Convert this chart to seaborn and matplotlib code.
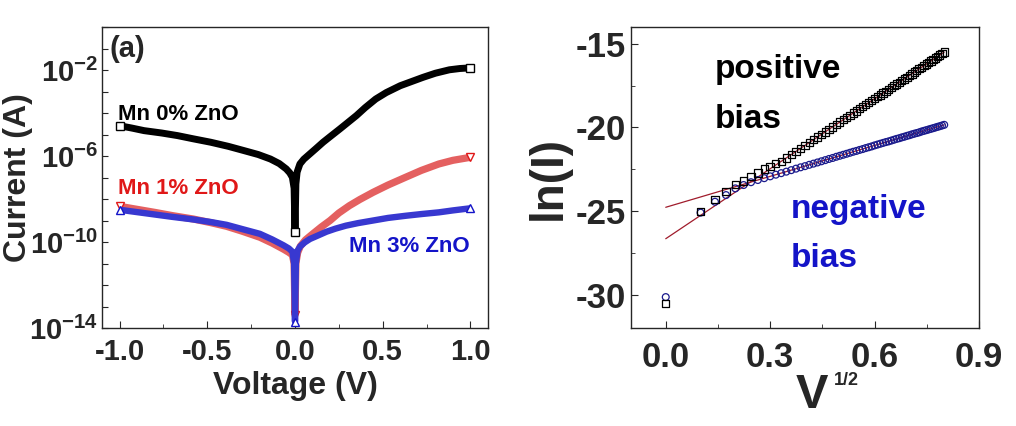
import numpy as np
import pandas as pd
import seaborn as sns
import matplotlib.pyplot as plt
from matplotlib.ticker import FixedLocator, FuncFormatter, MultipleLocator

# ---- panel (a): I-V curves, log10 of current ----
v_mn0 = [-1.0, -0.93, -0.86, -0.76, -0.67, -0.58, -0.48, -0.38, -0.29, -0.21, -0.14, -0.09,
         -0.05, -0.03, -0.015, -0.005, 0.0,
         0.005, 0.012, 0.028, 0.05, 0.085, 0.12, 0.16, 0.2, 0.256, 0.3, 0.35, 0.4, 0.46,
         0.52, 0.6, 0.66, 0.73, 0.8, 0.88, 0.94, 1.0]
logi_mn0 = [-4.59, -4.70, -4.82, -4.93, -5.05, -5.20, -5.36, -5.55, -5.75, -5.93, -6.14, -6.35,
            -6.6, -6.78, -6.99, -7.5, -9.55,
            -7.3, -6.75, -6.37, -6.15, -5.9, -5.65, -5.36, -5.1, -4.74, -4.45, -4.12, -3.75, -3.35,
            -3.05, -2.73, -2.55, -2.34, -2.15, -1.99, -1.93, -1.9]

v_mn1 = [-1.0, -0.9, -0.8, -0.7, -0.58, -0.48, -0.39, -0.3, -0.2, -0.13, -0.066, -0.035,
         -0.015, -0.005, 0.0,
         0.005, 0.015, 0.03, 0.06, 0.1, 0.15, 0.2, 0.25, 0.31, 0.37, 0.445, 0.53, 0.63,
         0.72, 0.82, 0.9, 1.0]
logi_mn1 = [-8.34, -8.48, -8.62, -8.77, -8.93, -9.1, -9.27, -9.5, -9.78, -10.05, -10.33, -10.48,
            -10.6, -11.0, -13.4,
            -11.0, -10.5, -10.2, -9.9, -9.63, -9.3, -9.0, -8.65, -8.31, -8.02, -7.69, -7.35, -6.99,
            -6.67, -6.37, -6.2, -6.06]

v_mn3 = [-1.0, -0.9, -0.8, -0.7, -0.58, -0.48, -0.39, -0.3, -0.2, -0.13, -0.066, -0.035,
         -0.015, -0.005, 0.0,
         0.005, 0.015, 0.03, 0.055, 0.085, 0.13, 0.18, 0.23, 0.29, 0.36, 0.445, 0.53, 0.63,
         0.72, 0.82, 0.9, 1.0]
logi_mn3 = [-8.5, -8.61, -8.72, -8.83, -8.95, -9.07, -9.2, -9.4, -9.62, -9.88, -10.15, -10.3,
            -10.45, -11.0, -13.7,
            -11.0, -10.4, -10.2, -10.02, -9.86, -9.7, -9.52, -9.38, -9.24, -9.12, -9.0, -8.88, -8.78,
            -8.7, -8.62, -8.53, -8.43]

# ---- panel (b): ln(I) vs V^1/2 ----
bias_v = [0.00, 0.01, 0.02, 0.03, 0.04, 0.05, 0.06, 0.07, 0.08, 0.09,
          0.10, 0.11, 0.12, 0.13, 0.14, 0.15, 0.16, 0.17, 0.18, 0.19,
          0.20, 0.21, 0.22, 0.23, 0.24, 0.25, 0.26, 0.27, 0.28, 0.29,
          0.30, 0.31, 0.32, 0.33, 0.34, 0.35, 0.36, 0.37, 0.38, 0.39,
          0.40, 0.41, 0.42, 0.43, 0.44, 0.45, 0.46, 0.47, 0.48, 0.49,
          0.50, 0.51, 0.52, 0.53, 0.54, 0.55, 0.56, 0.57, 0.58, 0.59,
          0.60, 0.61, 0.62, 0.63, 0.64]
ln_pos = [-30.55, -25.04, -24.30, -23.85, -23.43, -23.20, -22.92, -22.72, -22.50, -22.35,
          -22.18, -22.03, -21.83, -21.63, -21.44, -21.26, -21.08, -20.91, -20.74, -20.58,
          -20.42, -20.27, -20.12, -19.97, -19.83, -19.69, -19.55, -19.41, -19.28, -19.15,
          -19.02, -18.89, -18.77, -18.65, -18.53, -18.41, -18.29, -18.17, -18.06, -17.95,
          -17.84, -17.73, -17.62, -17.51, -17.41, -17.30, -17.20, -17.10, -17.00, -16.90,
          -16.80, -16.70, -16.60, -16.50, -16.41, -16.31, -16.22, -16.13, -16.04, -15.95,
          -15.85, -15.77, -15.68, -15.59, -15.50]
ln_neg = [-30.15, -25.10, -24.45, -24.05, -23.65, -23.45, -23.28, -23.15, -23.04, -22.93,
          -22.83, -22.74, -22.65, -22.56, -22.47, -22.39, -22.32, -22.24, -22.17, -22.10,
          -22.03, -21.96, -21.89, -21.83, -21.76, -21.70, -21.64, -21.58, -21.52, -21.46,
          -21.41, -21.35, -21.30, -21.24, -21.19, -21.14, -21.08, -21.03, -20.98, -20.93,
          -20.88, -20.84, -20.79, -20.74, -20.69, -20.65, -20.60, -20.56, -20.51, -20.47,
          -20.42, -20.38, -20.34, -20.30, -20.25, -20.21, -20.17, -20.13, -20.09, -20.05,
          -20.01, -19.97, -19.93, -19.89, -19.85]
fit_x = [0.0, 0.8]
fit_pos = [-26.66, -15.50]
fit_neg = [-24.78, -19.85]

sns.set_style("ticks")
plt.rcParams["font.family"] = ["Liberation Sans", "DejaVu Sans"]
plt.rcParams["font.weight"] = "bold"
plt.rcParams["axes.unicode_minus"] = False
plt.rcParams["mathtext.fontset"] = "custom"
plt.rcParams["mathtext.rm"] = "Liberation Sans:bold"
plt.rcParams["mathtext.bf"] = "Liberation Sans:bold"
plt.rcParams["mathtext.it"] = "Liberation Sans:bold"
plt.rcParams["mathtext.default"] = "regular"

fig = plt.figure(figsize=(10.16, 4.26), dpi=100)
ax1 = fig.add_axes([0.1004, 0.230, 0.3799, 0.7066])
ax2 = fig.add_axes([0.621, 0.230, 0.3426, 0.7066])

black = "#000000"
red = "#e01818"
blue = "#1414c8"

curves = [
    (v_mn0, logi_mn0, black, "s", 5.0, black),
    (v_mn1, logi_mn1, "#e46060", "v", 5.2, red),
    (v_mn3, logi_mn3, "#3838d0", "^", 4.6, blue),
]
for v, logi, lc, mk, lw, mc in curves:
    df = pd.DataFrame({"V": v, "I": 10 ** np.array(logi)})
    zero = v.index(0.0)
    sns.lineplot(data=df, x="V", y="I", ax=ax1, sort=False, color=lc, lw=lw,
                 solid_joinstyle="round", solid_capstyle="butt",
                 marker=mk, markersize=6, markerfacecolor="white",
                 markeredgecolor=mc, markeredgewidth=1.0,
                 markevery=[0, zero, len(v) - 1])

ax1.set_yscale("log")
ax1.set_xlim(-1.1, 1.1)
ax1.set_ylim(1e-14, 1e0)
ax1.yaxis.set_major_locator(FixedLocator([10.0 ** k for k in range(-14, 1)]))
ax1.yaxis.set_major_formatter(FuncFormatter(
    lambda y, p: r"$10^{%d}$" % round(np.log10(y)) if round(np.log10(y)) in (-2, -6, -10, -14) else ""))
ax1.yaxis.set_minor_locator(FixedLocator([]))
ax1.xaxis.set_major_locator(MultipleLocator(0.5))
ax1.xaxis.set_minor_locator(MultipleLocator(0.25))
ax1.xaxis.set_major_formatter(FuncFormatter(lambda x, p: "%.1f" % x))
ax1.tick_params(axis="both", which="both", direction="in")
ax1.tick_params(axis="x", which="major", length=5, labelsize=21, pad=7)
ax1.tick_params(axis="x", which="minor", length=3)
ax1.tick_params(axis="y", which="major", length=4, labelsize=21, pad=3)
ax1.set_xlabel("Voltage (V)", fontsize=23, fontweight="bold", labelpad=4)
ax1.set_ylabel("Current (A)", fontsize=23, fontweight="bold")
ax1.yaxis.set_label_coords(-0.18, 0.5)

ax1.text(-1.055, 10 ** -1.02, "(a)", fontsize=21, fontweight="bold", va="center", ha="left")
ax1.text(-1.01, 10 ** -4.05, "Mn 0% ZnO", fontsize=16, fontweight="bold", color=black, va="center")
ax1.text(-1.01, 10 ** -7.53, "Mn 1% ZnO", fontsize=16, fontweight="bold", color=red, va="center")
ax1.text(0.995, 10 ** -10.19, "Mn 3% ZnO", fontsize=16, fontweight="bold", color=blue, va="center", ha="right")

# panel (b)
fit_df = pd.DataFrame({"x": fit_x * 2, "y": fit_pos + fit_neg, "fit": ["pos", "pos", "neg", "neg"]})
sns.lineplot(data=fit_df, x="x", y="y", units="fit", estimator=None, ax=ax2,
             color="#a01c2c", lw=0.9, zorder=1)
sq = pd.DataFrame({"x": np.sqrt(bias_v), "y": ln_pos})
ci = pd.DataFrame({"x": np.sqrt(bias_v), "y": ln_neg})
sns.scatterplot(data=ci, x="x", y="y", ax=ax2, marker="o", s=24,
                facecolor="none", edgecolor="#1a1a8c", linewidth=0.9, zorder=2)
sns.scatterplot(data=sq, x="x", y="y", ax=ax2, marker="s", s=28,
                facecolor="none", edgecolor="black", linewidth=0.9, zorder=3)

ax2.set_xlim(-0.1, 0.9)
ax2.set_ylim(-32, -14)
ax2.xaxis.set_major_locator(MultipleLocator(0.3))
ax2.xaxis.set_minor_locator(MultipleLocator(0.15))
ax2.xaxis.set_major_formatter(FuncFormatter(lambda x, p: "%.1f" % x))
ax2.yaxis.set_major_locator(MultipleLocator(5))
ax2.yaxis.set_minor_locator(MultipleLocator(2.5))
ax2.tick_params(axis="both", which="both", direction="in")
ax2.tick_params(axis="both", which="major", length=5, labelsize=25)
ax2.tick_params(axis="x", which="major", pad=9)
ax2.tick_params(axis="both", which="minor", length=3)
ax2.set_xlabel("V", fontsize=35, fontweight="bold")
ax2.xaxis.set_label_coords(0.52, -0.148)
ax2.text(0.582, -0.146, "1/2", transform=ax2.transAxes, fontsize=13,
         fontweight="bold", ha="left", va="top")
ax2.set_ylabel("ln(I)", fontsize=33, fontweight="bold", labelpad=4)

ax2.text(0.14, -17.02, "positive", fontsize=24, fontweight="bold", color=black, va="baseline")
ax2.text(0.14, -20.06, "bias", fontsize=24, fontweight="bold", color=black, va="baseline")
ax2.text(0.359, -25.42, "negative", fontsize=24, fontweight="bold", color=blue, va="baseline")
ax2.text(0.359, -28.33, "bias", fontsize=24, fontweight="bold", color=blue, va="baseline")

for ax in (ax1, ax2):
    for s in ax.spines.values():
        s.set_linewidth(1.0)
        s.set_visible(True)

fig.savefig("out.png", dpi=100)
